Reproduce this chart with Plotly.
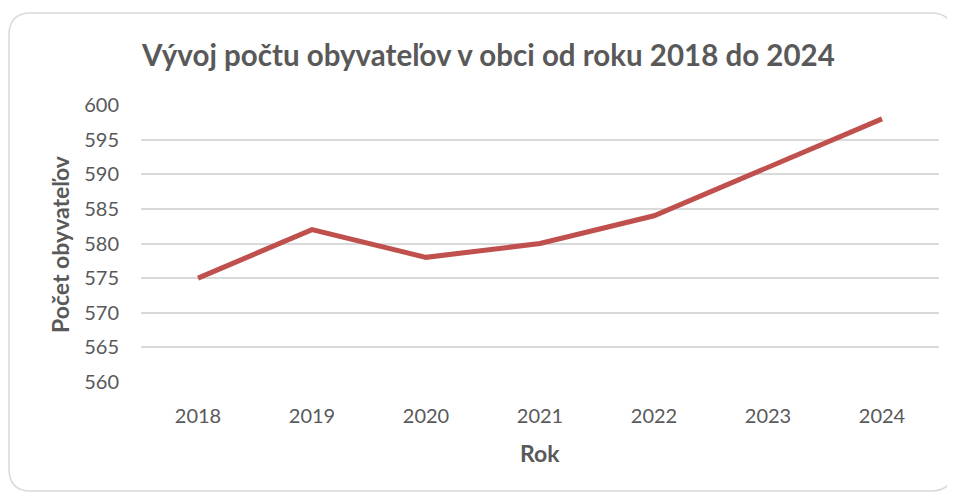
import plotly.graph_objects as go

years = ["2018", "2019", "2020", "2021", "2022", "2023", "2024"]
population = [575, 582, 578, 580, 584, 591, 598]
y_ticks = [560, 565, 570, 575, 580, 585, 590, 595, 600]

W, H = 955, 493
OFF = 8  # page body margin offset
# plot area in page pixels: x 141..939, y 105..382
L = 141 - OFF
T = 105 - OFF
R = W - (939 - OFF)
B = H - (382 - OFF)
pw, ph = W - L - R, H - T - B

def px(x):  # page pixel -> paper
    return (x - OFF - L) / pw

def py(y):
    return (H - B - (y - OFF)) / ph

fig = go.Figure()
fig.add_trace(go.Scatter(
    x=years, y=population, mode="lines",
    line=dict(color="#C0504D", width=5),
    hoverinfo="x+y",
))

# rounded frame (page pixels)
x0, x1, y0, y1, r = 9, 953, 13, 491, 22
path = (
    f"M {px(x0 + r)} {py(y0)} L {px(x1 - r)} {py(y0)} "
    f"Q {px(x1)} {py(y0)} {px(x1)} {py(y0 + r)} "
    f"L {px(x1)} {py(y1 - r)} Q {px(x1)} {py(y1)} {px(x1 - r)} {py(y1)} "
    f"L {px(x0 + r)} {py(y1)} Q {px(x0)} {py(y1)} {px(x0)} {py(y1 - r)} "
    f"L {px(x0)} {py(y0 + r)} Q {px(x0)} {py(y0)} {px(x0 + r)} {py(y0)} Z"
)
fig.add_shape(type="path", xref="paper", yref="paper", path=path,
              line=dict(color="#D9D9D9", width=1.5), layer="below")

font_family = "Lato, 'Open Sans', sans-serif"
fig.add_annotation(text="<b>Vývoj počtu obyvateľov v obci od roku 2018 do 2024</b>",
                   xref="paper", yref="paper", x=px(488), y=py(54),
                   xanchor="center", yanchor="middle", showarrow=False,
                   font=dict(size=29.5, color="#595959", family=font_family))
fig.add_annotation(text="<b>Rok</b>", xref="paper", yref="paper",
                   x=px(540), y=py(453), xanchor="center", yanchor="middle",
                   showarrow=False, font=dict(size=23, color="#595959", family=font_family))
fig.add_annotation(text="<b>Počet obyvateľov</b>", xref="paper", yref="paper",
                   x=px(60), y=py(244), xanchor="center", yanchor="middle",
                   textangle=-90, showarrow=False,
                   font=dict(size=23, color="#595959", family=font_family))

fig.update_layout(
    width=W, height=H,
    margin=dict(l=L, r=R, t=T, b=B),
    paper_bgcolor="white", plot_bgcolor="white",
    showlegend=False,
    font=dict(family=font_family, color="#595959", size=20),
    xaxis=dict(
        type="category", range=[-0.5, 6.5],
        showgrid=False, zeroline=False, showline=False,
        ticks="", tickfont=dict(size=20, color="#595959"),
        ticklabelstandoff=20,
    ),
    yaxis=dict(
        range=[560, 600], tickvals=y_ticks,
        showgrid=True, gridcolor="#D9D9D9", gridwidth=1.5,
        zeroline=False, showline=False, ticks="",
        tickfont=dict(size=20, color="#595959"),
        ticklabelstandoff=21,
    ),
)

fig.write_html("out.html")
